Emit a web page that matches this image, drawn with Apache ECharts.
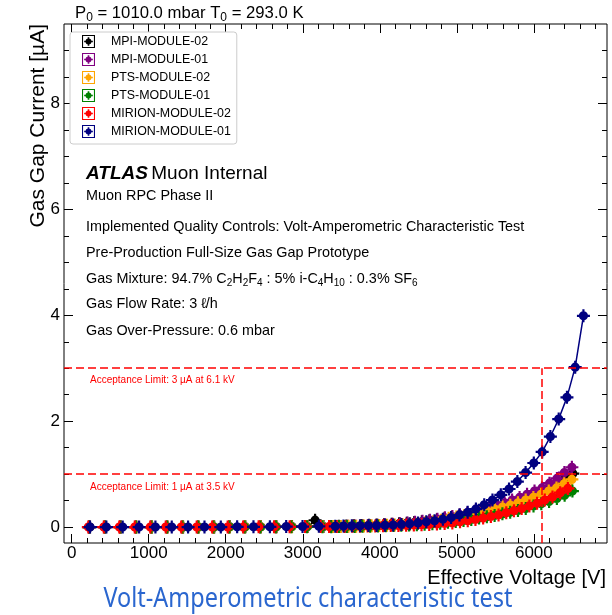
<!DOCTYPE html>
<html>
<head>
<meta charset="utf-8">
<script src="https://cdn.jsdelivr.net/npm/echarts@6/dist/echarts.min.js"></script>
<style>
  html, body { margin: 0; padding: 0; background: #fff; }
  #chart { width: 612px; height: 615px; }
</style>
</head>
<body>
<div id="chart"></div>
<script>
// ---- Series names and colours ----
const seriesNames = ['MPI-MODULE-02', 'MPI-MODULE-01', 'PTS-MODULE-02', 'PTS-MODULE-01', 'MIRION-MODULE-02', 'MIRION-MODULE-01'];
const seriesColors = ['#000000', '#800080', '#ffa500', '#008000', '#ff0000', '#000080'];

// ---- Tick labels ----
const xTickValues = [0, 1000, 2000, 3000, 4000, 5000, 6000];
const yTickValues = [0, 2, 4, 6, 8];

// ---- Measurements: effective voltage [V] and gas gap current [uA] ----
// MPI-MODULE-02
const mpi02V = [234, 436, 638, 840, 1042, 1244, 1446, 1648, 1850, 2052, 2254, 2456, 2658, 2860, 3062, 3160, 3268,
  3370, 3468, 3566, 3664, 3762, 3860, 3958, 4056, 4154, 4252, 4350, 4448, 4546, 4644, 4742, 4840, 4938, 5036,
  5134, 5232, 5330, 5428, 5526, 5624, 5722, 5820, 5918, 6016, 6114, 6212, 6310, 6408, 6506];
const mpi02I = [0, 0, 0, 0, 0, 0, 0, 0, 0, 0.005, 0.005, 0.005, 0.005, 0.01, 0.01, 0.13, 0.01,
  0.01, 0.015, 0.02, 0.025, 0.03, 0.035, 0.04, 0.045, 0.055, 0.065, 0.075, 0.085, 0.10, 0.12, 0.14, 0.16, 0.185, 0.21,
  0.24, 0.27, 0.305, 0.34, 0.38, 0.42, 0.46, 0.51, 0.565, 0.62, 0.68, 0.755, 0.83, 0.92, 1.01];

// MPI-MODULE-01
const mpi01V = [224, 426, 628, 830, 1032, 1234, 1436, 1638, 1840, 2042, 2244, 2446, 2648, 2850, 3052, 3254,
  3390, 3487, 3584, 3681, 3778, 3875, 3972, 4069, 4166, 4263, 4360, 4457, 4554, 4651, 4748, 4845, 4942, 5039,
  5136, 5233, 5330, 5427, 5524, 5621, 5718, 5815, 5912, 6009, 6106, 6203, 6300, 6397, 6494];
const mpi01I = [0, 0, 0, 0, 0, 0, 0, 0, 0, 0.005, 0.005, 0.005, 0.005, 0.01, 0.01, 0.01,
  0.01, 0.01, 0.015, 0.02, 0.025, 0.03, 0.035, 0.045, 0.055, 0.065, 0.08, 0.09, 0.11, 0.13, 0.15, 0.175, 0.20, 0.235,
  0.265, 0.30, 0.335, 0.37, 0.415, 0.46, 0.51, 0.56, 0.62, 0.68, 0.74, 0.83, 0.92, 1.03, 1.13];

// PTS-MODULE-02
const pts02V = [230, 432, 634, 836, 1038, 1240, 1442, 1644, 1846, 2048, 2250, 2452, 2654, 2856, 3058, 3260,
  3394, 3494, 3594, 3694, 3794, 3894, 3994, 4094, 4194, 4294, 4394, 4494, 4594, 4694, 4794, 4894, 4994, 5094,
  5194, 5294, 5394, 5494, 5594, 5694, 5794, 5894, 5994, 6094, 6194, 6294, 6394, 6494];
const pts02I = [0, 0, 0, 0, 0, 0, 0, 0, 0, 0, 0.005, 0.005, 0.005, 0.005, 0.01, 0.01,
  0.01, 0.01, 0.015, 0.015, 0.02, 0.025, 0.03, 0.035, 0.04, 0.05, 0.06, 0.07, 0.085, 0.10, 0.13, 0.165, 0.19, 0.215,
  0.24, 0.27, 0.30, 0.34, 0.38, 0.415, 0.46, 0.51, 0.56, 0.62, 0.68, 0.74, 0.82, 0.90];

// PTS-MODULE-01
const pts01V = [226, 428, 630, 832, 1034, 1236, 1438, 1640, 1842, 2044, 2246, 2448, 2650, 2852, 3054, 3256,
  3370, 3471, 3572, 3673, 3774, 3875, 3976, 4077, 4178, 4279, 4380, 4481, 4582, 4683, 4784, 4885, 4986, 5087,
  5188, 5289, 5390, 5491, 5592, 5693, 5794, 5895, 5996, 6097, 6198, 6299, 6400, 6501];
const pts01I = [0, 0, 0, 0, 0, 0, 0, 0, 0, 0, 0, 0, 0.005, 0.005, 0.005, 0.005,
  0.005, 0.01, 0.01, 0.01, 0.015, 0.015, 0.02, 0.025, 0.03, 0.035, 0.04, 0.045, 0.055, 0.065, 0.075, 0.09, 0.105, 0.125,
  0.145, 0.17, 0.195, 0.22, 0.25, 0.28, 0.315, 0.35, 0.40, 0.44, 0.485, 0.54, 0.60, 0.68];

// MIRION-MODULE-02
const mir02V = [216, 417, 618, 819, 1020, 1221, 1422, 1623, 1824, 2025, 2226, 2427, 2628, 2829, 3030, 3231,
  3342, 3442, 3542, 3642, 3742, 3842, 3942, 4042, 4142, 4242, 4342, 4442, 4542, 4642, 4742, 4842, 4942, 5042,
  5142, 5242, 5342, 5442, 5542, 5642, 5742, 5842, 5942, 6042, 6142, 6242, 6342, 6442];
const mir02I = [0, 0, 0, 0, 0, 0, 0, 0, 0, 0, 0, 0.005, 0.005, 0.005, 0.01, 0.01,
  0.01, 0.01, 0.01, 0.015, 0.015, 0.02, 0.02, 0.025, 0.03, 0.03, 0.035, 0.04, 0.045, 0.05, 0.06, 0.07, 0.08, 0.10,
  0.12, 0.145, 0.17, 0.20, 0.23, 0.27, 0.31, 0.35, 0.40, 0.45, 0.51, 0.57, 0.65, 0.73];

// MIRION-MODULE-01
const mir01V = [238, 450, 662, 875, 1087, 1299, 1511, 1724, 1936, 2148, 2360, 2573, 2785, 2997, 3209, 3422,
  3529, 3637, 3744, 3852, 3959, 4067, 4174, 4281, 4389, 4496, 4604, 4711, 4819, 4926, 5034, 5141, 5248, 5356,
  5463, 5571, 5678, 5786, 5893, 6000, 6108, 6215, 6323, 6430, 6537, 6644];
const mir01I = [0, 0, 0, 0, 0, 0, 0, 0, 0, 0.005, 0.005, 0.005, 0.01, 0.01, 0.015, 0.015,
  0.02, 0.025, 0.025, 0.03, 0.03, 0.035, 0.04, 0.05, 0.065, 0.08, 0.10, 0.12, 0.15, 0.18, 0.23, 0.28, 0.34, 0.42,
  0.51, 0.61, 0.72, 0.86, 1.03, 1.21, 1.42, 1.71, 2.04, 2.45, 3.02, 3.99];

// ---- Acceptance limits ----
const limitCurrents = [3, 1];      // uA
const limitVoltage = 6100;         // V, where the 3 uA limit applies

const voltages = [mpi02V, mpi01V, pts02V, pts01V, mir02V, mir01V];
const currents = [mpi02I, mpi01I, pts02I, pts01I, mir02I, mir01I];

// ---- Drawing ----
const FONT = '"Liberation Sans", Arial, Helvetica, sans-serif';
const X_MIN = -100, X_MAX = 6950, Y_MIN = -0.3, Y_MAX = 9.5;

// marker: filled dot with horizontal and vertical error bars
const markerPath = 'path://M10,0H14V24H10Z M0,10H24V14H0Z M3.5,12A8.5,8.5 0 1,1 20.5,12A8.5,8.5 0 1,1 3.5,12Z';
// legend key: open box with error cross and dot
const legendIcon = 'path://M0,0H24V24H0Z M2,2V22H22V2Z M10.5,4H13.5V20H10.5Z M4,10.5H20V13.5H4Z M6.5,12A5.5,5.5 0 1,1 17.5,12A5.5,5.5 0 1,1 6.5,12Z';

const xMinor = [];
for (let v = 200; v <= 6800; v += 200) xMinor.push(v);
const yMinor = [];
for (let v = 0.5; v <= 9.0; v += 0.5) yMinor.push(v);

function tickAxis(kind, pos, values, len, showLabels) {
  const ax = {
    type: 'value', position: pos,
    min: kind === 'x' ? X_MIN : Y_MIN, max: kind === 'x' ? X_MAX : Y_MAX,
    axisLine: { show: false, onZero: false },
    splitLine: { show: false },
    axisTick: { show: true, inside: true, length: len, customValues: values,
      lineStyle: { color: '#000', width: 1 } },
    axisLabel: { show: false },
    silent: true
  };
  if (showLabels) {
    ax.axisLabel = {
      show: true, customValues: values, color: '#000', fontFamily: FONT, fontSize: 17,
      margin: kind === 'x' ? 2 : 4,
      formatter: v => String(v)
    };
  }
  return ax;
}

const series = seriesNames.map((name, k) => ({
  name: name,
  type: 'line',
  data: voltages[k].map((v, j) => [v, currents[k][j]]),
  symbol: markerPath,
  symbolSize: 13,
  showSymbol: true,
  lineStyle: { color: seriesColors[k], width: 1.5 },
  itemStyle: { color: seriesColors[k] },
  emphasis: { disabled: true },
  animation: false
}));

// dashed acceptance limits
series[0].markLine = {
  silent: true,
  symbol: 'none',
  label: { show: false },
  lineStyle: { color: '#ff0000', type: [8, 4], width: 1.5 },
  data: [
    [{ coord: [X_MIN, limitCurrents[0]] }, { coord: [X_MAX, limitCurrents[0]] }],
    [{ coord: [X_MIN, limitCurrents[1]] }, { coord: [X_MAX, limitCurrents[1]] }],
    [{ coord: [limitVoltage, Y_MIN] }, { coord: [limitVoltage, limitCurrents[0]] }]
  ]
};

const subStyle = { fontFamily: FONT, fontSize: 10, lineHeight: 10, verticalAlign: 'bottom', fill: '#000' };

function infoText(x, y, text, size, rich) {
  return {
    type: 'text', x: x, y: y, silent: true,
    style: { text: text, fontFamily: FONT, fontSize: size, fill: '#000',
      verticalAlign: 'middle', align: 'left', lineHeight: size + 5, rich: rich }
  };
}

const chart = echarts.init(document.getElementById('chart'), null, { renderer: 'canvas' });

// caption width fitting
const captionText = 'Volt-Amperometric characteristic test';
const captionFont = '28px "Noto Sans"';
const mctx = document.createElement('canvas').getContext('2d');
mctx.font = captionFont;
const captionScale = 409 / mctx.measureText(captionText).width;

chart.setOption({
  animation: false,
  backgroundColor: '#ffffff',
  grid: {
    left: 64, top: 24, right: 5, bottom: 72,
    show: true, borderColor: '#000', borderWidth: 1, backgroundColor: 'transparent',
    containLabel: false, outerBoundsMode: 'none'
  },
  xAxis: [
    tickAxis('x', 'bottom', xTickValues, 9, true),
    tickAxis('x', 'bottom', xMinor, 5, false),
    tickAxis('x', 'top', xTickValues, 9, false),
    tickAxis('x', 'top', xMinor, 5, false)
  ],
  yAxis: [
    tickAxis('y', 'left', yTickValues, 9, true),
    tickAxis('y', 'left', yMinor, 5, false),
    tickAxis('y', 'right', yTickValues, 9, false),
    tickAxis('y', 'right', yMinor, 5, false)
  ],
  legend: {
    orient: 'vertical', left: 70, top: 32,
    padding: [3, 6, 6, 12], itemGap: 5, itemWidth: 13, itemHeight: 13,
    backgroundColor: '#ffffff', borderColor: '#cccccc', borderWidth: 1, borderRadius: 3,
    selectedMode: false,
    textStyle: { fontFamily: FONT, fontSize: 12.4, color: '#000', padding: [0, 0, 0, 11] },
    data: seriesNames.map(n => ({ name: n, icon: legendIcon }))
  },
  series: series,
  graphic: [
    {
      type: 'text', x: 75, y: 13, silent: true,
      style: {
        text: 'P{s|0} = 1010.0 mbar T{s|0} = 293.0 K',
        fontFamily: FONT, fontSize: 16.7, fill: '#000', verticalAlign: 'middle', lineHeight: 22,
        rich: { s: { fontFamily: FONT, fontSize: 12, lineHeight: 12, verticalAlign: 'bottom', fill: '#000' } }
      }
    },
    {
      type: 'text', x: 86, y: 174, silent: true,
      style: {
        text: '{a|ATLAS} {b|Muon Internal}', verticalAlign: 'middle',
        rich: {
          a: { fontFamily: FONT, fontSize: 19, fontWeight: 'bold', fontStyle: 'italic', fill: '#000' },
          b: { fontFamily: FONT, fontSize: 19, fill: '#000' }
        }
      }
    },
    infoText(86, 196, 'Muon RPC Phase II', 14.4),
    infoText(86, 227, 'Implemented Quality Controls: Volt-Amperometric Characteristic Test', 14.4),
    infoText(86, 253, 'Pre-Production Full-Size Gas Gap Prototype', 14.4),
    infoText(86, 279, 'Gas Mixture: 94.7% C{s|2}H{s|2}F{s|4} : 5% i-C{s|4}H{s|10} : 0.3% SF{s|6}', 14.4, { s: subStyle }),
    infoText(86, 304, 'Gas Flow Rate: 3 \u2113/h', 14.4),
    infoText(86, 331, 'Gas Over-Pressure: 0.6 mbar', 14.4),
    {
      type: 'text', x: 90, y: 380, silent: true,
      style: { text: 'Acceptance Limit: 3 \u00b5A at 6.1 kV', fontFamily: FONT, fontSize: 10,
        fill: '#ff0000', verticalAlign: 'middle' }
    },
    {
      type: 'text', x: 90, y: 487, silent: true,
      style: { text: 'Acceptance Limit: 1 \u00b5A at 3.5 kV', fontFamily: FONT, fontSize: 10,
        fill: '#ff0000', verticalAlign: 'middle' }
    },
    {
      type: 'text', x: 38, y: 24, rotation: Math.PI / 2, silent: true,
      style: { text: 'Gas Gap Current [\u00b5A]', fontFamily: FONT, fontSize: 21, fill: '#000',
        align: 'right', verticalAlign: 'middle' }
    },
    {
      type: 'text', x: 606, y: 578, silent: true,
      style: { text: 'Effective Voltage [V]', fontFamily: FONT, fontSize: 20, fill: '#000',
        align: 'right', verticalAlign: 'middle' }
    },
    {
      type: 'text', x: 308, y: 599, scaleX: captionScale, silent: true,
      style: { text: captionText, fontFamily: '"Noto Sans"', fontSize: 28, fill: '#2a66cf',
        align: 'center', verticalAlign: 'middle' }
    }
  ]
});
</script>
</body>
</html>
